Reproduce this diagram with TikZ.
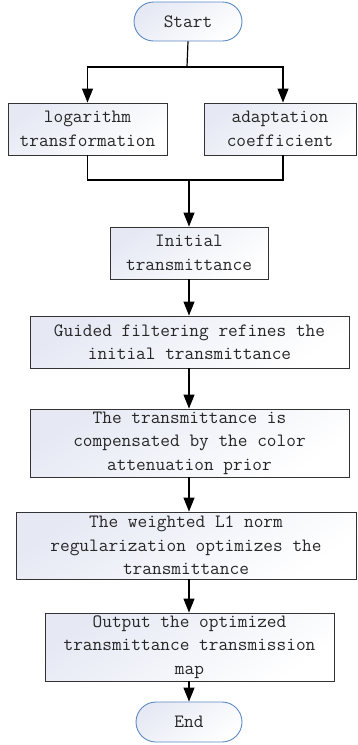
\documentclass[tikz,border=0pt]{standalone}
\usepackage{fontspec}
\usetikzlibrary{arrows.meta,shapes.misc}
\definecolor{gfill}{HTML}{E6E9F4}
\definecolor{tborder}{HTML}{5A89C4}
\tikzset{
  boxstyle/.style={draw=black!80, line width=0.9pt, rectangle, inner sep=0pt,
    top color=gfill, bottom color=white, shading angle=35,
    font=\ttfamily\fontsize{18.8}{23.5}\selectfont, text=black!85, align=center},
  termstyle/.style={draw=tborder, line width=0.9pt, rounded rectangle, inner sep=0pt,
    top color=gfill, bottom color=white, shading angle=35,
    font=\ttfamily\fontsize{18.8}{23.5}\selectfont, text=black!85, align=center},
  arr/.style={line width=1.2pt, -{Triangle[width=11pt,length=14pt]}},
  ln/.style={line width=1.2pt}
}
\begin{document}
\begin{tikzpicture}[x=1pt,y=-1pt]
\useasboundingbox (0,0) rectangle (357,745);
\node[termstyle, minimum width=108pt, minimum height=39pt] (start) at (188,21.5) {Start};
\node[boxstyle, minimum width=159pt, minimum height=52pt] (log) at (87.5,129) {logarithm\\transformation};
\node[boxstyle, minimum width=152pt, minimum height=52pt] (adapt) at (280,129) {adaptation\\coefficient};
\node[boxstyle, minimum width=158pt, minimum height=52pt] (init) at (189,253) {Initial\\transmittance};
\node[boxstyle, minimum width=319pt, minimum height=52pt] (guided) at (189.5,342) {Guided filtering refines the\\initial transmittance};
\node[boxstyle, minimum width=319pt, minimum height=68pt] (color) at (189.5,443) {The transmittance is\\compensated by the color\\attenuation prior};
\node[boxstyle, minimum width=340pt, minimum height=67pt] (weighted) at (186,545.5) {The weighted L1 norm\\regularization optimizes the\\transmittance};
\node[boxstyle, minimum width=289pt, minimum height=68pt] (output) at (189.5,647) {Output the optimized\\transmittance transmission\\map};
\node[termstyle, minimum width=106pt, minimum height=40pt] (end) at (189,722) {End};
\coordinate (j1) at (187,67);
\coordinate (j2) at (189,180);
\coordinate (adx) at (283,129);
\draw[ln] (start.south) -- (j1);
\draw[arr] (j1) -| (log.north);
\draw[arr] (j1) -| (adx |- adapt.north);
\draw[ln] (log.south) |- (j2);
\draw[ln] (adx |- adapt.south) |- (j2);
\draw[arr] (j2) -- (init.north);
\draw[arr] (init.south) -- (init.south |- guided.north);
\draw[arr] (init.south |- guided.south) -- (init.south |- color.north);
\draw[arr] (init.south |- color.south) -- (init.south |- weighted.north);
\draw[arr] (init.south |- weighted.south) -- (init.south |- output.north);
\draw[arr] (init.south |- output.south) -- (end.north);
\end{tikzpicture}
\end{document}
